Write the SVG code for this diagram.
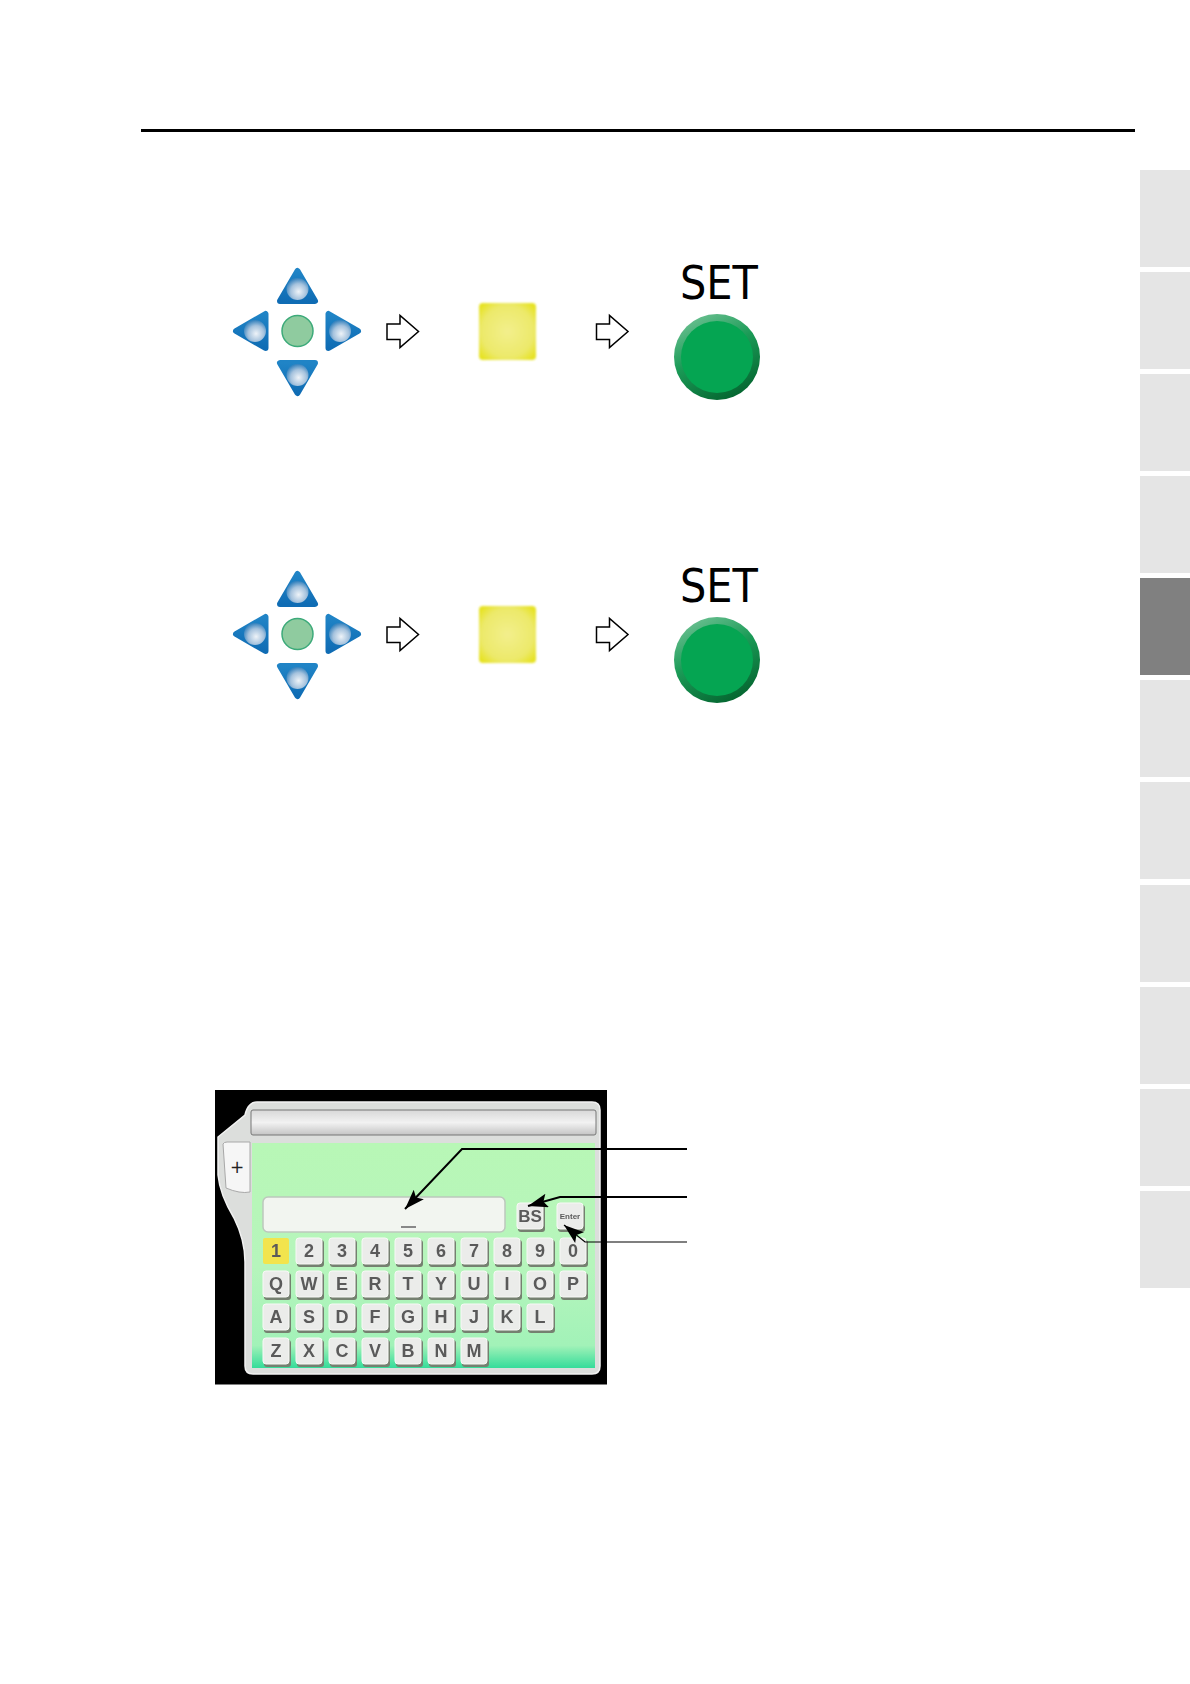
<svg xmlns="http://www.w3.org/2000/svg" xmlns:xlink="http://www.w3.org/1999/xlink" width="1190" height="1684" viewBox="0 0 1190 1684">
<style>
.tab{fill:#e5e5e5}
.tri{fill:url(#blue);stroke:url(#blue);stroke-width:6;stroke-linejoin:round}
.ball{fill:url(#ball)}
.flow{fill:#fff;stroke:#000;stroke-width:1.5}
.set{font-family:"DejaVu Sans",sans-serif;font-size:47px;fill:#000}
.k{font-family:"Liberation Sans",sans-serif;font-size:18px;font-weight:bold;fill:#5a5a5a;text-anchor:middle;filter:url(#b05)}
.kbg{fill:#ebecea;stroke:#f8f8f6;stroke-width:1}
.ksh{fill:#75806f}
.conn{fill:none;stroke:#000;stroke-width:2}
</style>
<defs>
<linearGradient id="blue" x1="0" y1="0" x2="0" y2="1"><stop offset="0" stop-color="#2084c6"/><stop offset="1" stop-color="#0f6cb4"/></linearGradient>
<radialGradient id="ball" cx="0.55" cy="0.62" r="0.6"><stop offset="0" stop-color="#eef3f8"/><stop offset="0.6" stop-color="#a5c2dd"/><stop offset="1" stop-color="#3a85bf"/></radialGradient>
<linearGradient id="panel" x1="0" y1="0" x2="0" y2="1"><stop offset="0" stop-color="#b8f7b6"/><stop offset="0.55" stop-color="#b6f5bc"/><stop offset="0.9" stop-color="#a2f2b8"/><stop offset="1" stop-color="#35dc9a"/></linearGradient>
<linearGradient id="bar" x1="0" y1="0" x2="0" y2="1"><stop offset="0" stop-color="#d8d8d8"/><stop offset="0.5" stop-color="#f2f2f2"/><stop offset="1" stop-color="#c4c4c4"/></linearGradient>
<linearGradient id="rim" x1="0.2" y1="0" x2="0.7" y2="1"><stop offset="0" stop-color="#6fc294"/><stop offset="0.45" stop-color="#1b9b57"/><stop offset="1" stop-color="#04642f"/></linearGradient>
<radialGradient id="yel" cx="0.5" cy="0.5" r="0.65"><stop offset="0" stop-color="#f3ef8c"/><stop offset="0.7" stop-color="#ece96a"/><stop offset="1" stop-color="#e6e21f"/></radialGradient>
<filter id="b05" x="-20%" y="-20%" width="140%" height="140%"><feGaussianBlur stdDeviation="0.5"/></filter>
<filter id="b1" x="-20%" y="-20%" width="140%" height="140%"><feGaussianBlur stdDeviation="1"/></filter>
<marker id="ah" markerUnits="userSpaceOnUse" markerWidth="22" markerHeight="16" refX="20" refY="7" orient="auto"><path d="M0 0L20 7L0 14L4 7Z" fill="#000"/></marker>
<g id="dpad">
<path class="tri" d="M297.500 271L315 301H280Z"/>
<path class="tri" d="M297.500 393L280 363H315Z"/>
<path class="tri" d="M236 331L265.500 314V348Z"/>
<path class="tri" d="M358 331L328.500 314V348Z"/>
<circle class="ball" cx="297.500" cy="289" r="11"/>
<circle class="ball" cx="297.500" cy="375" r="11"/>
<circle class="ball" cx="255" cy="331" r="11"/>
<circle class="ball" cx="340" cy="331" r="11"/>
<circle cx="297.500" cy="331" r="15.500" fill="#8fcb9f" stroke="#3daa7a" stroke-width="1.500"/>
</g>
<path id="flow" class="flow" d="M387 324H400V315.500L418.500 331.500L400 347.500V339.500H387Z"/>
<g id="setbtn">
<text class="set" x="680" y="299" textLength="78" lengthAdjust="spacingAndGlyphs">SET</text>
<circle cx="717" cy="357" r="43" fill="url(#rim)"/>
<circle cx="717" cy="357" r="36" fill="#05a552"/>
</g>
<g id="ykey"><rect x="479" y="303" width="57" height="57" rx="4" fill="url(#yel)" filter="url(#b1)"/></g>
<g id="key"><rect class="ksh" x="-12" y="-11" width="27" height="27" rx="3" filter="url(#b05)"/><rect class="kbg" x="-13" y="-13" width="26" height="26" rx="3" filter="url(#b05)"/></g>
</defs>
<rect width="1190" height="1684" fill="#fff"/>
<rect id="rule" x="141" y="129" width="994" height="3" fill="#000"/>
<g id="tabs">
<rect class="tab" x="1140" y="170" width="50" height="97"/>
<rect class="tab" x="1140" y="272" width="50" height="97"/>
<rect class="tab" x="1140" y="374" width="50" height="97"/>
<rect class="tab" x="1140" y="476" width="50" height="97"/>
<rect x="1140" y="578" width="50" height="97" fill="#808080"/>
<rect class="tab" x="1140" y="680" width="50" height="97"/>
<rect class="tab" x="1140" y="782" width="50" height="97"/>
<rect class="tab" x="1140" y="885" width="50" height="97"/>
<rect class="tab" x="1140" y="987" width="50" height="97"/>
<rect class="tab" x="1140" y="1089" width="50" height="97"/>
<rect class="tab" x="1140" y="1191" width="50" height="97"/>
</g>
<g id="row1">
<g id="dpad-1"><use xlink:href="#dpad" href="#dpad"/></g>
<g id="flow-1a"><use xlink:href="#flow" href="#flow"/></g>
<g id="key-1"><use xlink:href="#ykey" href="#ykey"/></g>
<g id="flow-1b"><use xlink:href="#flow" href="#flow" x="209.500"/></g>
<g id="set-1"><use xlink:href="#setbtn" href="#setbtn"/></g>
</g>
<g id="row2" transform="translate(0 303)">
<g id="dpad-2"><use xlink:href="#dpad" href="#dpad"/></g>
<g id="flow-2a"><use xlink:href="#flow" href="#flow"/></g>
<g id="key-2"><use xlink:href="#ykey" href="#ykey"/></g>
<g id="flow-2b"><use xlink:href="#flow" href="#flow" x="209.500"/></g>
<g id="set-2"><use xlink:href="#setbtn" href="#setbtn"/></g>
</g>
<g id="keyboard">
<rect x="215" y="1090" width="392" height="294.500" fill="#000"/>
<path d="M257 1102H592Q600 1102 600 1110V1366Q600 1374 592 1374H253Q245 1374 245 1366V1262Q245 1240 234 1218Q220 1195 218 1175V1137L245 1115Q248 1102 257 1102Z" fill="#dcdedc" stroke="#f2f2f2" stroke-width="1.500" filter="url(#b05)"/>
<path d="M223 1144Q224 1142 227 1142H250V1192Q240 1194 226 1188Z" fill="#f6f6f6" stroke="#a8a8a8"/>
<text x="237" y="1173" font-family="DejaVu Sans,sans-serif" font-size="17" text-anchor="middle" fill="#222">+</text>
<rect x="251" y="1110" width="345" height="25" rx="2" fill="url(#bar)" stroke="#777" filter="url(#b05)"/>
<rect x="252" y="1143" width="343" height="225" fill="url(#panel)" filter="url(#b05)"/>
<rect x="263" y="1197" width="242" height="35" rx="5" fill="#f2f5f0" stroke="#bdc7bd" stroke-width="1.500" filter="url(#b05)"/>
<rect x="401" y="1226" width="15" height="2" fill="#888"/>
<g transform="translate(530 1216)"><use xlink:href="#key" href="#key"/></g><text class="k" x="530" y="1222" style="font-size:17px">BS</text>
<g transform="translate(570 1216)"><use xlink:href="#key" href="#key"/></g><text class="k" x="570" y="1219" style="font-size:8px">Enter</text>
<g transform="translate(276 1251)"><rect x="-13" y="-13" width="26" height="26" rx="2" fill="#f2e44e" filter="url(#b05)"/></g><text class="k" x="276" y="1257">1</text>
<g transform="translate(309 1251)"><use xlink:href="#key" href="#key"/></g><text class="k" x="309" y="1257">2</text>
<g transform="translate(342 1251)"><use xlink:href="#key" href="#key"/></g><text class="k" x="342" y="1257">3</text>
<g transform="translate(375 1251)"><use xlink:href="#key" href="#key"/></g><text class="k" x="375" y="1257">4</text>
<g transform="translate(408 1251)"><use xlink:href="#key" href="#key"/></g><text class="k" x="408" y="1257">5</text>
<g transform="translate(441 1251)"><use xlink:href="#key" href="#key"/></g><text class="k" x="441" y="1257">6</text>
<g transform="translate(474 1251)"><use xlink:href="#key" href="#key"/></g><text class="k" x="474" y="1257">7</text>
<g transform="translate(507 1251)"><use xlink:href="#key" href="#key"/></g><text class="k" x="507" y="1257">8</text>
<g transform="translate(540 1251)"><use xlink:href="#key" href="#key"/></g><text class="k" x="540" y="1257">9</text>
<g transform="translate(573 1251)"><use xlink:href="#key" href="#key"/></g><text class="k" x="573" y="1257">0</text>
<g transform="translate(276 1284)"><use xlink:href="#key" href="#key"/></g><text class="k" x="276" y="1290">Q</text>
<g transform="translate(309 1284)"><use xlink:href="#key" href="#key"/></g><text class="k" x="309" y="1290">W</text>
<g transform="translate(342 1284)"><use xlink:href="#key" href="#key"/></g><text class="k" x="342" y="1290">E</text>
<g transform="translate(375 1284)"><use xlink:href="#key" href="#key"/></g><text class="k" x="375" y="1290">R</text>
<g transform="translate(408 1284)"><use xlink:href="#key" href="#key"/></g><text class="k" x="408" y="1290">T</text>
<g transform="translate(441 1284)"><use xlink:href="#key" href="#key"/></g><text class="k" x="441" y="1290">Y</text>
<g transform="translate(474 1284)"><use xlink:href="#key" href="#key"/></g><text class="k" x="474" y="1290">U</text>
<g transform="translate(507 1284)"><use xlink:href="#key" href="#key"/></g><text class="k" x="507" y="1290">I</text>
<g transform="translate(540 1284)"><use xlink:href="#key" href="#key"/></g><text class="k" x="540" y="1290">O</text>
<g transform="translate(573 1284)"><use xlink:href="#key" href="#key"/></g><text class="k" x="573" y="1290">P</text>
<g transform="translate(276 1317)"><use xlink:href="#key" href="#key"/></g><text class="k" x="276" y="1323">A</text>
<g transform="translate(309 1317)"><use xlink:href="#key" href="#key"/></g><text class="k" x="309" y="1323">S</text>
<g transform="translate(342 1317)"><use xlink:href="#key" href="#key"/></g><text class="k" x="342" y="1323">D</text>
<g transform="translate(375 1317)"><use xlink:href="#key" href="#key"/></g><text class="k" x="375" y="1323">F</text>
<g transform="translate(408 1317)"><use xlink:href="#key" href="#key"/></g><text class="k" x="408" y="1323">G</text>
<g transform="translate(441 1317)"><use xlink:href="#key" href="#key"/></g><text class="k" x="441" y="1323">H</text>
<g transform="translate(474 1317)"><use xlink:href="#key" href="#key"/></g><text class="k" x="474" y="1323">J</text>
<g transform="translate(507 1317)"><use xlink:href="#key" href="#key"/></g><text class="k" x="507" y="1323">K</text>
<g transform="translate(540 1317)"><use xlink:href="#key" href="#key"/></g><text class="k" x="540" y="1323">L</text>
<g transform="translate(276 1351)"><use xlink:href="#key" href="#key"/></g><text class="k" x="276" y="1357">Z</text>
<g transform="translate(309 1351)"><use xlink:href="#key" href="#key"/></g><text class="k" x="309" y="1357">X</text>
<g transform="translate(342 1351)"><use xlink:href="#key" href="#key"/></g><text class="k" x="342" y="1357">C</text>
<g transform="translate(375 1351)"><use xlink:href="#key" href="#key"/></g><text class="k" x="375" y="1357">V</text>
<g transform="translate(408 1351)"><use xlink:href="#key" href="#key"/></g><text class="k" x="408" y="1357">B</text>
<g transform="translate(441 1351)"><use xlink:href="#key" href="#key"/></g><text class="k" x="441" y="1357">N</text>
<g transform="translate(474 1351)"><use xlink:href="#key" href="#key"/></g><text class="k" x="474" y="1357">M</text>
</g>
<g id="connectors">
<path class="conn" d="M687 1149H462L405 1209" marker-end="url(#ah)"/>
<path class="conn" d="M687 1197H560L528 1206" marker-end="url(#ah)"/>
<path class="conn" style="stroke-width:1.200" d="M687 1242H585L564 1225" marker-end="url(#ah)"/>
</g>
</svg>
